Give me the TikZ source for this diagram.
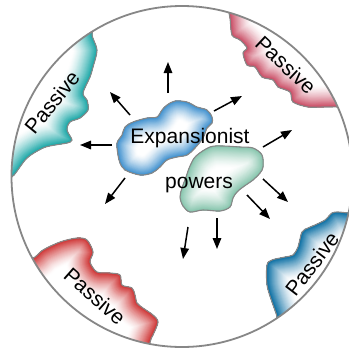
\documentclass[tikz,border=0pt]{standalone}
\usepackage{fontspec}
\setmainfont{Liberation Sans}
\usetikzlibrary{arrows.meta}

\definecolor{rim}{RGB}{135,135,135}
\definecolor{tealzone}{RGB}{20,165,165}
\definecolor{rosezone}{RGB}{200,70,95}
\definecolor{redzone}{RGB}{205,45,45}
\definecolor{bluezone}{RGB}{0,105,160}
\definecolor{blueblob}{RGB}{55,140,205}
\definecolor{greenblob}{RGB}{130,195,170}

% soft colour band along a path, strongest on the path itself
\newcommand{\edgeglow}[3]{%
  \foreach \k in {0,...,24}{%
    \pgfmathsetmacro{\w}{2*#2*(1-\k/24)+0.6}%
    \pgfmathtruncatemacro{\p}{100*(\k/24)^1.4}%
    \draw[line width=\w pt, draw=#1!\p!white, line join=round, line cap=round] #3;
  }}

\tikzset{
  rimline/.style={draw=rim, line width=1.8pt},
  edgeline/.style={draw=rim, line width=1.1pt, line join=round},
  lbl/.style={inner sep=0pt, font=\fontsize{21}{25}\selectfont},
  push/.style={-{Triangle[length=11pt,width=8.5pt]}, line width=1.5pt, black},
}

\begin{document}
\begin{tikzpicture}[x=1pt,y=-1pt]
\useasboundingbox (0,0) rectangle (349,349);
\fill[white] (0,0) rectangle (349,349);

\def\rimpath{(182,176.5) circle (170.5)}

% ---- the four passive zones on the rim ----
\def\edgeA{plot[smooth,tension=0.5] coordinates {(95,25) (92,35) (97,50) (93,67) (90,77) (83,93) (87,100) (88,110) (80,118) (70,122) (67,130) (72,140) (67,143) (55,145) (43,148) (27,158) (14,175) (5,182)}}
\def\edgeB{plot[smooth,tension=0.5] coordinates {(227,4) (230,18) (232,35) (240,40) (247,48) (243,53) (247,65) (255,67) (262,77) (273,80) (278,87) (290,92) (293,102) (308,107) (323,107) (340,107) (358,108)}}
\def\edgeC{plot[smooth,tension=0.5] coordinates {(25,262) (35,257) (43,250) (60,242) (77,238) (87,240) (93,252) (90,262) (97,272) (110,273) (120,275) (122,285) (132,288) (135,295) (137,303) (143,308) (153,315) (158,322) (153,335) (150,342) (150,356)}}
\def\edgeD{plot[smooth,tension=0.5] coordinates {(275,326) (277,317) (272,302) (267,285) (267,265) (272,260) (285,257) (293,255) (298,247) (302,232) (308,228) (315,225) (325,220) (332,213) (338,212) (348,213) (362,214)}}

\begin{scope}
  \clip \rimpath;
  \clip \edgeA -- (-20,182) -- (-20,-20) -- (95,-20) -- cycle;
  \edgeglow{tealzone}{24}{\edgeA}
\end{scope}
\begin{scope}
  \clip \rimpath;
  \clip \edgeB -- (370,108) -- (370,-20) -- (227,-20) -- cycle;
  \edgeglow{rosezone}{22}{\edgeB}
\end{scope}
\begin{scope}
  \clip \rimpath;
  \clip \edgeC -- (150,370) -- (-20,370) -- (-20,262) -- cycle;
  \edgeglow{redzone}{24}{\edgeC}
\end{scope}
\begin{scope}
  \clip \rimpath;
  \clip \edgeD -- (370,214) -- (370,370) -- (275,370) -- cycle;
  \edgeglow{bluezone}{24}{\edgeD}
\end{scope}

\begin{scope}
  \clip \rimpath;
  \draw[edgeline] \edgeA;
  \draw[edgeline] \edgeB;
  \draw[edgeline] \edgeC;
  \draw[edgeline] \edgeD;
\end{scope}

\draw[rimline] \rimpath;

% ---- the two expansionist blobs ----
\def\blobE{plot[smooth cycle,tension=0.55] coordinates {(117,143) (122,135) (125,127) (133,122) (147,118) (157,117) (162,110) (167,105) (175,101) (187,102) (197,107) (207,110) (212,117) (212,123) (207,128) (203,138) (195,148) (187,155) (177,157) (167,160) (160,167) (152,173) (140,175) (125,170) (120,163) (118,155)}}
\def\blobP{plot[smooth cycle,tension=0.55] coordinates {(196,156) (210,147) (223,146) (240,147) (253,148) (262,155) (263,167) (260,173) (253,180) (243,187) (237,192) (233,198) (230,207) (220,211) (203,210) (190,212) (183,206) (180,197) (182,188) (186,177) (190,166)}}

\begin{scope}
  \clip \blobE;
  \fill[white] \blobE;
  \edgeglow{blueblob}{20}{\blobE}
\end{scope}
\draw[edgeline] \blobE;

\begin{scope}
  \clip \blobP;
  \fill[white] \blobP;
  \edgeglow{greenblob}{22}{\blobP}
\end{scope}
\draw[edgeline] \blobP;

% ---- labels ----
\node[lbl, anchor=base] (exp) at (190,143) {Expansionist};
\node[lbl, anchor=base] (pow) at (199,188) {powers};
\node[lbl, rotate=51]   (pa) at (52,102)  {Passive};
\node[lbl, rotate=-43]  (pb) at (286,65)  {Passive};
\node[lbl, rotate=-41.5](pc) at (95,296)  {Passive};
\node[lbl, rotate=52.6] (pd) at (312,264) {Passive};

% ---- outward pushes ----
\coordinate (t1) at (168,93);  \coordinate (h1) at (168,62);
\coordinate (t2) at (130,115); \coordinate (h2) at (110,92);
\coordinate (t3) at (112,145); \coordinate (h3) at (80,145);
\coordinate (t4) at (125,178); \coordinate (h4) at (105,204);
\coordinate (t5) at (214,111); \coordinate (h5) at (242,96);
\coordinate (t6) at (263,147); \coordinate (h6) at (292,130);
\coordinate (t7) at (263,179); \coordinate (h7) at (288,202);
\coordinate (t8) at (247,195); \coordinate (h8) at (270,219);
\coordinate (t9) at (217,218); \coordinate (h9) at (217,249);
\coordinate (t10) at (188,227); \coordinate (h10) at (183,259);
\foreach \i in {1,...,10} \draw[push] (t\i) -- (h\i);
\end{tikzpicture}
\end{document}
